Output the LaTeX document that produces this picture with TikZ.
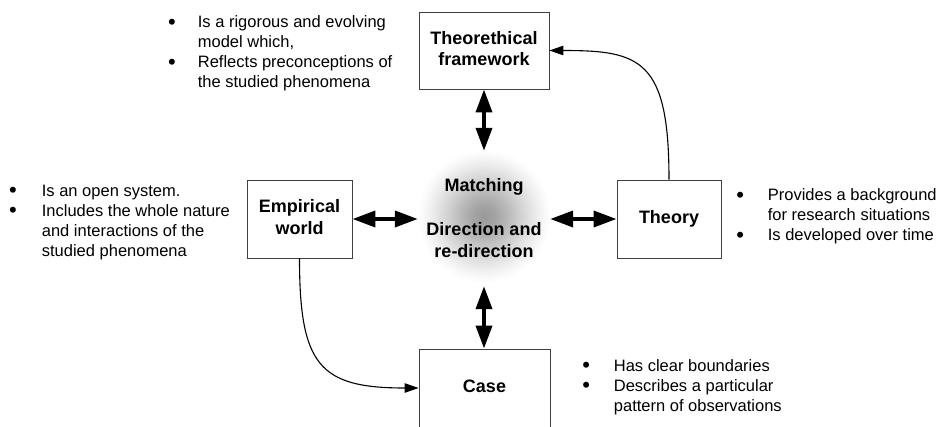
\documentclass[tikz,border=0pt]{standalone}
\usepackage{fontspec}
\setmainfont{Liberation Sans}
\usepackage{array}
\usetikzlibrary{arrows.meta,calc}
\pgfdeclareradialshading{glow}{\pgfpoint{0bp}{0bp}}{color(0bp)=(black!40); color(4bp)=(black!36); color(9bp)=(black!27); color(14bp)=(black!17); color(19bp)=(black!8); color(23bp)=(black!2); color(25bp)=(white); color(50bp)=(white)}
\newcommand\bul{{\fontsize{22}{20}\selectfont\raisebox{-1.9pt}{\textbullet}}}
\newcommand\lbl[1]{\begin{tabular}{@{}c@{}}#1\end{tabular}}
\begin{document}
\begin{tikzpicture}[x=1pt,y=-1pt,
  box/.style={draw=black!75,line width=0.9pt,inner sep=0pt,font=\fontsize{18}{21.5}\selectfont\bfseries},
  hubtext/.style={inner sep=0pt,font=\fontsize{18}{21.5}\selectfont\bfseries},
  listtext/.style={inner sep=0pt,anchor=base west,font=\fontsize{16.5}{20}\selectfont},
  dbl/.style={{Triangle[length=23pt,width=16pt]}-{Triangle[length=23pt,width=16pt]},line width=3.7pt},
  thinarrow/.style={-{Triangle[length=14pt,width=9.5pt]},line width=1.1pt}]
\useasboundingbox (0,0) rectangle (940,426);
\clip (0,0) rectangle (940,426);

% central glow
\node[circle,minimum size=134pt,inner sep=0pt,shade,shading=glow] (hub) at (484,216) {};
\node[hubtext,anchor=base] (match) at (484,191) {Matching};
\node[hubtext,anchor=base] (dir) at (484,235.7) {\begin{tabular}[t]{@{}c@{}}Direction and\\re-direction\end{tabular}};

% boxes
\node[box,minimum width=130pt,minimum height=77pt] (tf) at (484,50.5) {\lbl{Theorethical\\framework}};
\node[box,minimum width=105pt,minimum height=78pt] (emp) at (299.5,219) {\lbl{Empirical\\world}};
\node[box,minimum width=104pt,minimum height=78pt] (th) at (669,219) {\lbl{Theory}};
\node[box,minimum width=131pt,minimum height=78pt] (case) at (484.5,388) {\lbl{Case}};

% thick double arrows
\draw[dbl] (tf.south) -- ($(tf.south |- hub.north)+(0,2)$);
\draw[dbl] (emp.east) -- ($(emp.east -| hub.west)+(1,0)$);
\draw[dbl] ($(th.west -| hub.east)+(-1,0)$) -- (th.west);
\draw[dbl] ($(hub.south)+(0,3)$) -- (case.north -| hub.south);

% thin curved arrows
\draw[thinarrow] (th.north) .. controls ($(th.north)+(0,-120)$) and ($(tf.east)+(91,0)$) .. (tf.east);
\draw[thinarrow] (emp.south) .. controls ($(emp.south)+(0,107)$) and ($(case.west)+(-99,0)$) .. (case.west);

% bullet lists
\node[listtext] (ltf) at (167.9,27.5) {\begin{tabular}[t]{@{}p{29.8pt}@{}l@{}}
\bul & Is a rigorous and evolving\\
 & model which,\\
\bul & Reflects preconceptions of\\
 & the studied phenomena
\end{tabular}};
\node[listtext] (lemp) at (8.9,196) {\begin{tabular}[t]{@{}p{32.8pt}@{}l@{}}
\bul & Is an open system.\\
\bul & Includes the whole nature\\
 & and interactions of the\\
 & studied phenomena
\end{tabular}};
\node[listtext] (lth) at (736.2,200.7) {\begin{tabular}[t]{@{}p{31.5pt}@{}l@{}}
\bul & Provides a background\\
 & for research situations\\
\bul & Is developed over time
\end{tabular}};
\node[listtext] (lcase) at (582.2,371) {\begin{tabular}[t]{@{}p{31.5pt}@{}l@{}}
\bul & Has clear boundaries\\
\bul & Describes a particular\\
 & pattern of observations
\end{tabular}};
\end{tikzpicture}
\end{document}
